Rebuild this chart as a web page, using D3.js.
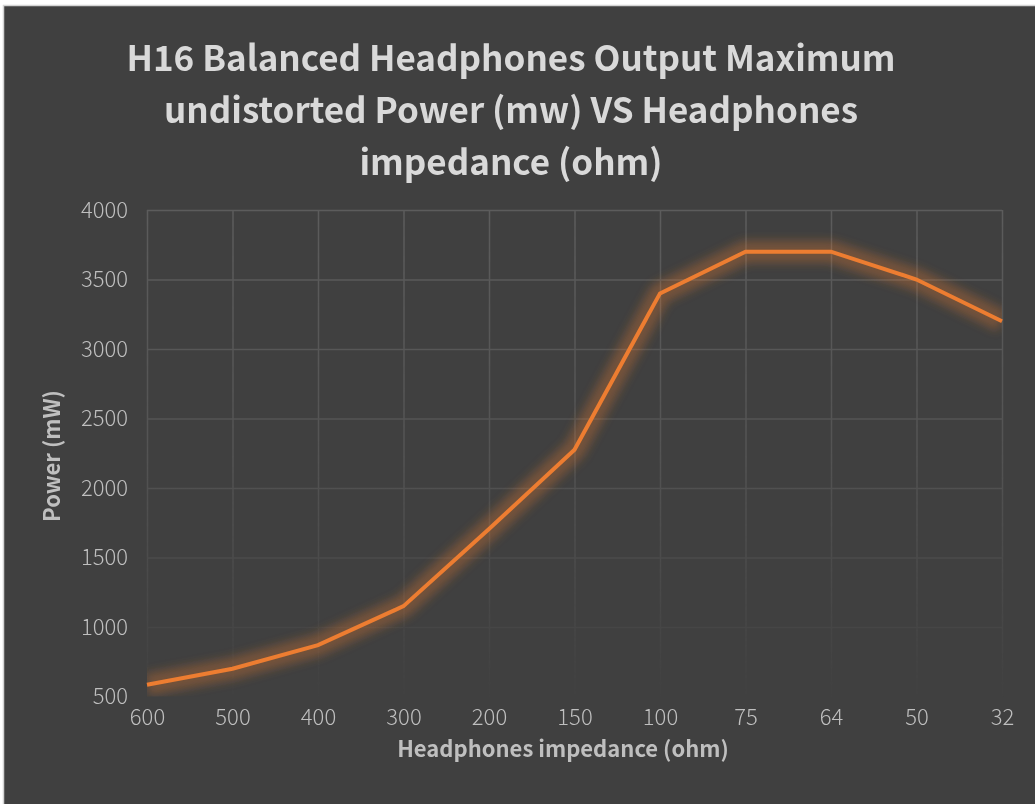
<!DOCTYPE html>
<html><head><meta charset="utf-8">
<script src="https://cdn.jsdelivr.net/npm/d3@7"></script>
<style>
html,body{margin:0;padding:0;background:#fff;}
svg{display:block;}
</style></head>
<body>
<script>
const categories = ["600","500","400","300","200","150","100","75","64","50","32"];
const power = [585, 700, 870, 1150, 1705, 2275, 3400, 3700, 3700, 3500, 3200];
const yTicks = [500,1000,1500,2000,2500,3000,3500,4000];
const titleLines = ["H16 Balanced Headphones Output Maximum","undistorted Power (mw) VS Headphones","impedance (ohm)"];
const xTitle = "Headphones impedance (ohm)";
const yTitle = "Power (mW)";

const W = 1035, H = 804;
const plot = {left:147, right:1002, top:210, bottom:696.5};
const svg = d3.select("body").append("svg").attr("width",W).attr("height",H);
const defs = svg.append("defs");

svg.append("rect").attr("x",3.5).attr("y",5.5).attr("width",W).attr("height",H)
  .attr("fill","#404040").attr("stroke","#d4d4d4").attr("stroke-width",1.5);

const x = d3.scalePoint().domain(categories).range([plot.left, plot.right]);
const y = d3.scaleLinear().domain([500,4000]).range([plot.bottom, plot.top]);

const grad = defs.append("linearGradient").attr("id","fade").attr("gradientUnits","userSpaceOnUse")
  .attr("x1",0).attr("y1",plot.top).attr("x2",0).attr("y2",plot.bottom);
grad.append("stop").attr("offset","0").attr("stop-color","#fff").attr("stop-opacity",1);
grad.append("stop").attr("offset","0.5").attr("stop-color","#fff").attr("stop-opacity",0.7);
grad.append("stop").attr("offset","1").attr("stop-color","#fff").attr("stop-opacity",0.03);
const mask = defs.append("mask").attr("id","gridmask").attr("maskUnits","userSpaceOnUse")
  .attr("x",0).attr("y",0).attr("width",W).attr("height",H);
mask.append("rect").attr("x",0).attr("y",plot.top-2).attr("width",W).attr("height",plot.bottom-plot.top+4).attr("fill","url(#fade)");

const clip = defs.append("clipPath").attr("id","plotclip");
clip.append("rect").attr("x",plot.left).attr("y",plot.top).attr("width",plot.right-plot.left).attr("height",plot.bottom-plot.top);

const glowF = defs.append("filter").attr("id","glow").attr("x","-20%").attr("y","-20%").attr("width","140%").attr("height","140%");
glowF.append("feGaussianBlur").attr("stdDeviation",5);

const grid = svg.append("g").attr("mask","url(#gridmask)");
grid.append("g").attr("transform",`translate(0,${plot.bottom})`)
  .call(d3.axisBottom(x).tickSize(-(plot.bottom-plot.top)).tickFormat(""))
  .call(g=>{g.select(".domain").remove(); g.selectAll("line").attr("stroke","#5c5c5c").attr("stroke-width",1.5);});
grid.append("g").attr("transform",`translate(${plot.left},0)`)
  .call(d3.axisLeft(y).tickValues(yTicks).tickSize(-(plot.right-plot.left)).tickFormat(""))
  .call(g=>{g.select(".domain").remove(); g.selectAll("line").attr("stroke","#5c5c5c").attr("stroke-width",1.5);});

const line = d3.line().x((d,i)=>x(categories[i])).y(d=>y(d));
const lg = svg.append("g").attr("clip-path","url(#plotclip)");
lg.append("path").datum(power).attr("d",line).attr("fill","none")
  .attr("stroke","#ed7d31").attr("stroke-width",22).attr("stroke-opacity",0.3)
  .attr("stroke-linejoin","round").attr("filter","url(#glow)");
svg.append("path").datum(power).attr("d",line).attr("fill","none")
  .attr("stroke","#ed7d31").attr("stroke-width",4).attr("stroke-linejoin","miter");

const tickFont = "'Noto Sans CJK SC','Noto Sans',sans-serif";
svg.append("g").attr("transform",`translate(0,${plot.bottom})`)
  .call(d3.axisBottom(x).tickSize(0).tickPadding(24))
  .call(g=>{g.select(".domain").remove();
    g.selectAll("text").attr("fill","#bfbfbf").attr("font-size",22).attr("font-weight",300).attr("font-family",tickFont).attr("dy","0.2em");});
svg.append("g").attr("transform",`translate(${plot.left},0)`)
  .call(d3.axisLeft(y).tickValues(yTicks).tickSize(0).tickPadding(19).tickFormat(d3.format("d")))
  .call(g=>{g.select(".domain").remove();
    g.selectAll("text").attr("fill","#bfbfbf").attr("font-size",22).attr("font-weight",300).attr("font-family",tickFont);});

svg.append("text").attr("x",563).attr("y",757).attr("text-anchor","middle")
  .attr("fill","#bfbfbf").attr("font-size",22).attr("font-weight","bold").attr("font-family",tickFont).text(xTitle);
svg.append("text").attr("transform",`translate(60,456) rotate(-90)`).attr("text-anchor","middle")
  .attr("fill","#bfbfbf").attr("font-size",22).attr("font-weight","bold").attr("font-family",tickFont).text(yTitle);

const t = svg.append("g");
titleLines.forEach((s,i)=>{
  t.append("text").attr("x",511).attr("y",71+i*52).attr("text-anchor","middle")
   .attr("fill","#d9d9d9").attr("font-size",35).attr("font-weight","bold").attr("font-family",tickFont).text(s);
});
</script>
</body></html>
